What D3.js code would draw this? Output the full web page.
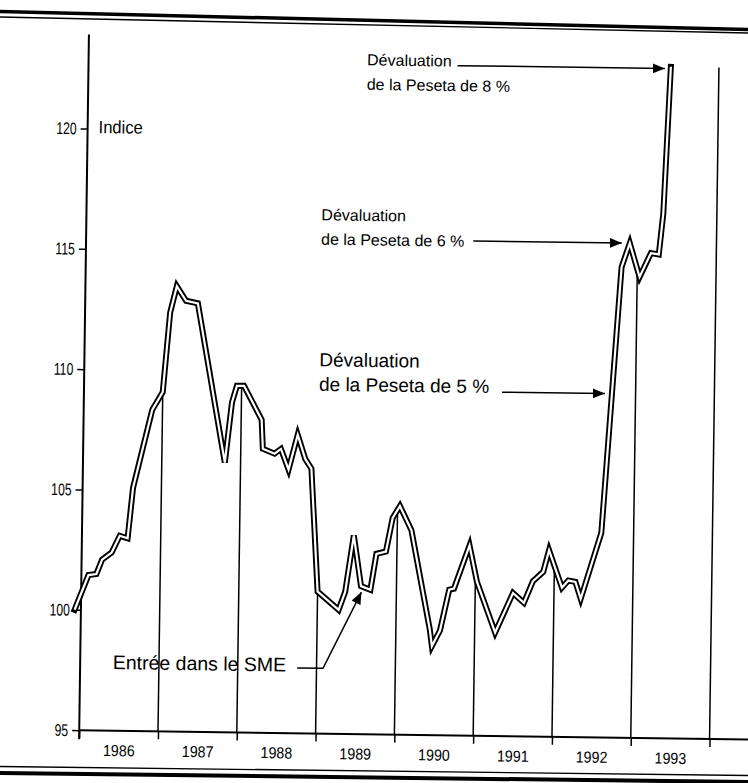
<!DOCTYPE html>
<html>
<head>
<meta charset="utf-8">
<script src="https://cdn.jsdelivr.net/npm/d3@7"></script>
<style>
html,body{margin:0;padding:0;background:#fff;}
svg{display:block;}
</style>
</head>
<body>
<svg id="chart" width="748" height="783"></svg>
<script>
// ---- Data ----
// index (1986 = 100), positions as decimal years
const dates = [1985.92, 1986.09, 1986.19, 1986.26, 1986.38, 1986.48, 1986.58, 1986.64, 1986.87,
  1987.00, 1987.08, 1987.16, 1987.28, 1987.43, 1987.80, 1987.88, 1987.94,
  1988.03, 1988.26, 1988.28, 1988.43, 1988.51, 1988.61, 1988.72, 1988.82, 1988.90,
  1989.00, 1989.27, 1989.35, 1989.45, 1989.55, 1989.67, 1989.74, 1989.86, 1989.94,
  1990.03, 1990.18, 1990.43, 1990.46, 1990.56, 1990.67, 1990.73, 1990.92,
  1991.02, 1991.26, 1991.48, 1991.62, 1991.73, 1991.86, 1991.93,
  1992.10, 1992.18, 1992.27, 1992.34, 1992.59, 1992.80, 1992.90,
  1993.03, 1993.17, 1993.27, 1993.32, 1993.39];
const values = [100.0, 101.45, 101.5, 102.1, 102.4, 103.1, 103.0, 105.1, 108.35,
  109.1, 112.4, 113.5, 112.9, 112.8, 106.2, 108.7, 109.4,
  109.4, 108.0, 106.8, 106.6, 106.8, 105.95, 107.4, 106.4, 106.0,
  100.9, 100.15, 100.9, 103.25, 101.15, 101.0, 102.5, 102.6, 104.0,
  104.5, 103.5, 99.4, 98.7, 99.35, 101.05, 101.1, 102.9,
  101.4, 99.3, 100.95, 100.55, 101.45, 101.85, 102.75,
  101.2, 101.5, 101.45, 100.75, 103.5, 114.55, 115.55,
  114.15, 115.15, 115.1, 116.8, 122.9];
const yearLabels = ["1986", "1987", "1988", "1989", "1990", "1991", "1992", "1993"];
const yearBounds = [1986, 1987, 1988, 1989, 1990, 1991, 1992, 1993, 1994];
const yTicks = [95, 100, 105, 110, 115, 120];
const yAxisTitle = "Indice";
const dev8Lines = ["Dévaluation", "de la Peseta de 8 %"];
const dev6Lines = ["Dévaluation", "de la Peseta de 6 %"];
const dev5Lines = ["Dévaluation", "de la Peseta de 5 %"];
const smeLabel = "Entrée dans le SME";
const smeDate = 1989.55, dev5Date = 1992.70;

// ---- Layout ----
const svg = d3.select("#chart");
const FONT = "'Liberation Sans', Arial, Helvetica, sans-serif";

// page rules (scanned page borders)
const rules = [
  [0, 11.5, 748, 29.5, 3.5], [0, 17, 748, 33, 1.4],
  [0, 766.5, 748, 775.5, 1.4], [0, 773, 748, 782, 4]
];
svg.selectAll("line.rule").data(rules).join("line").attr("class", "rule")
  .attr("x1", d => d[0]).attr("y1", d => d[1]).attr("x2", d => d[2]).attr("y2", d => d[3])
  .attr("stroke", "#000").attr("stroke-width", d => d[4]);

const g = svg.append("g").attr("transform", "rotate(0.8,374,390)");

const x = d3.scaleLinear().domain([1986, 1994]).range([84, 714.4]);
const y = d3.scaleLinear().domain([95, 120]).range([734.3, 132.5]);

const defs = svg.append("defs");
defs.append("marker").attr("id", "ah").attr("markerUnits", "userSpaceOnUse")
  .attr("markerWidth", 13).attr("markerHeight", 10).attr("refX", 12).attr("refY", 5)
  .attr("orient", "auto")
  .append("path").attr("d", "M0,0 L12,5 L0,10 Z").attr("fill", "#000");

function valueAt(t) {
  const i = d3.bisectLeft(dates, t);
  if (i <= 0) return values[0];
  if (i >= dates.length) return values[values.length - 1];
  const t0 = dates[i - 1], t1 = dates[i];
  return values[i - 1] + (values[i] - values[i - 1]) * (t - t0) / (t1 - t0);
}

// y axis
const yAxis = d3.axisLeft(y).tickValues(yTicks).tickSize(7).tickPadding(4).tickFormat(d3.format("d"));
const gy = g.append("g").attr("transform", `translate(${x(1986)},0)`).call(yAxis);
gy.select(".domain").remove();
gy.selectAll(".tick line").attr("stroke", "#000").attr("stroke-width", 1.5);
gy.selectAll(".tick text").attr("font-family", FONT).attr("font-size", 17).attr("fill", "#000")
  .each(function () {
    const t = d3.select(this); const xx = +t.attr("x");
    t.attr("x", 0).attr("transform", `translate(${xx},0) scale(0.72,1)`);
  });
g.append("line").attr("x1", x(1986)).attr("x2", x(1986))
  .attr("y1", y(123.9)).attr("y2", y(95) + 9).attr("stroke", "#000").attr("stroke-width", 2);

// x axis
const gx = g.append("g").attr("transform", `translate(0,${y(95)})`)
  .call(d3.axisBottom(x).tickValues(yearBounds).tickSize(8).tickFormat(""));
gx.select(".domain").remove();
gx.selectAll(".tick line").attr("stroke", "#000").attr("stroke-width", 1.5);
g.append("line").attr("x1", x(1986)).attr("x2", 770).attr("y1", y(95)).attr("y2", y(95))
  .attr("stroke", "#000").attr("stroke-width", 2);

const gl = g.append("g").attr("transform", `translate(0,${y(95)})`)
  .call(d3.axisBottom(x).tickValues(yearLabels.map(l => +l + 0.5)).tickSize(0).tickPadding(14)
    .tickFormat((d, i) => yearLabels[i]));
gl.select(".domain").remove();
gl.selectAll(".tick text").attr("font-family", FONT).attr("font-size", 16).attr("fill", "#000")
  .attr("transform", "scale(0.89,1)");

// year drop lines up to the series
g.selectAll("line.yr").data(yearBounds.slice(1)).join("line").attr("class", "yr")
  .attr("x1", d => x(d)).attr("x2", d => x(d))
  .attr("y1", y(95)).attr("y2", d => y(d === 1994 ? values[values.length - 1] : valueAt(d)))
  .attr("stroke", "#000").attr("stroke-width", 1.5);

// series: double (outlined) line
const pts = dates.map((t, i) => [t, values[i]]);
const line = d3.line().x(d => x(d[0])).y(d => y(d[1]));
g.append("path").attr("d", line(pts)).attr("fill", "none").attr("stroke", "#000")
  .attr("stroke-width", 6).attr("stroke-linejoin", "miter").attr("stroke-miterlimit", 6)
  .attr("stroke-linecap", "square");
g.append("path").attr("d", line(pts)).attr("fill", "none").attr("stroke", "#fff")
  .attr("stroke-width", 2.2).attr("stroke-linejoin", "miter").attr("stroke-miterlimit", 6);

// axis title
g.append("text").attr("font-family", FONT).attr("font-size", 18)
  .attr("transform", `translate(${x(1986) + 11},${y(120) + 4.5}) scale(0.92,1)`).text(yAxisTitle);

// annotations
function block(lines, x0, y0, size) {
  const t = g.append("text").attr("font-family", FONT).attr("font-size", size).attr("fill", "#000");
  lines.forEach((s, i) => t.append("tspan").attr("x", x0).attr("y", y0 + i * 24.5).text(s));
  return t;
}
function arrow(pointsArr) {
  g.append("path").attr("d", d3.line()(pointsArr)).attr("fill", "none").attr("stroke", "#000")
    .attr("stroke-width", 1.5).attr("marker-end", "url(#ah)");
}
const lastX = x(dates[dates.length - 1]);
// 8 %
const b8 = block(dev8Lines, 362.5, 65.5, 16);
const w8 = b8.select("tspan").node().getComputedTextLength();
arrow([[362.5 + w8 + 6, 64.5], [lastX - 6, 64.5]]);
// 6 %
const iPeak = values.indexOf(d3.max(values.filter((v, i) => dates[i] < 1993)));
const b6 = block(dev6Lines, 319, 221, 16);
const w6 = b6.select("tspan:nth-child(2)").node().getComputedTextLength();
arrow([[319 + w6 + 9, y(values[iPeak])], [x(dates[iPeak]) - 8, y(values[iPeak])]]);
// 5 %
const b5 = block(dev5Lines, 319, 367, 19);
const w5 = b5.select("tspan:nth-child(2)").node().getComputedTextLength();
arrow([[319 + w5 + 13, y(valueAt(dev5Date))], [x(dev5Date) - 7, y(valueAt(dev5Date))]]);
// SME
const bs = block([smeLabel], 116.6, 672.7, 19.5);
const ws = bs.select("tspan").node().getComputedTextLength();
arrow([[116.6 + ws + 11, 669], [326.9, 669], [x(smeDate) + 0.5, y(valueAt(smeDate)) + 6]]);
</script>
</body>
</html>
